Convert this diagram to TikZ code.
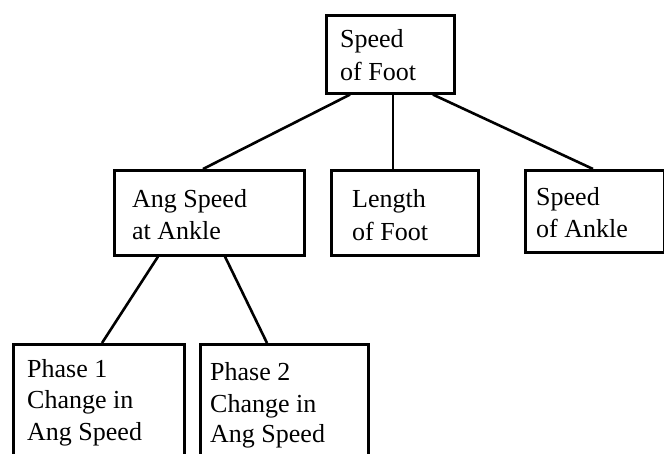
\documentclass[tikz,border=0pt]{standalone}
\usepackage{fontspec}
\setmainfont{Liberation Serif}
\usetikzlibrary{calc}
\begin{document}
\begin{tikzpicture}[x=1pt,y=-1pt,
  box/.style={draw=black,line width=2.6pt,minimum width=#1,inner sep=0pt,anchor=north west},
  lbl/.style={anchor=base west,inner sep=0pt,font=\fontsize{26}{32}\selectfont},
  conn/.style={line width=2.6pt}]
\clip (0,0) rectangle (664,453);
\fill[white] (0,0) rectangle (664,453);
% boxes
\node[box=128pt,minimum height=78pt] (top) at (325,14) {};
\node[box=190pt,minimum height=85pt] (ang) at (113,169) {};
\node[box=147pt,minimum height=85pt] (len) at (330,169) {};
\node[box=139pt,minimum height=82pt] (ank) at (524,169) {};
\node[box=171pt,minimum height=140pt] (p1) at (12,343) {};
\node[box=168pt,minimum height=140pt] (p2) at (199,343) {};
% texts
\node[lbl] (t1) at (340,47) {Speed};
\node[lbl] (t2) at (340,80) {of Foot};
\node[lbl] (a1) at (132,207) {Ang Speed};
\node[lbl] (a2) at (132,239) {at Ankle};
\node[lbl] (l1) at (352,207) {Length};
\node[lbl] (l2) at (352,240) {of Foot};
\node[lbl] (k1) at (536,205) {Speed};
\node[lbl] (k2) at (536,237) {of Ankle};
\node[lbl] (q1) at (27,377) {Phase 1};
\node[lbl] (q2) at (27,408) {Change in};
\node[lbl] (q3) at (27,440) {Ang Speed};
\node[lbl] (r1) at (210,380) {Phase 2};
\node[lbl] (r2) at (210,412) {Change in};
\node[lbl] (r3) at (210,442) {Ang Speed};
% connectors
\draw[conn] ($(top.south west)+(25,0)$) -- ($(ang.north west)+(90,0)$);
\draw[conn] ($(top.south west)+(68,0)$) -- ($(len.north west)+(63,0)$);
\draw[conn] ($(top.south west)+(108,0)$) -- ($(ank.north west)+(69,0)$);
\draw[conn] ($(ang.south west)+(45,0)$) -- ($(p1.north west)+(90,0)$);
\draw[conn] ($(ang.south west)+(112,0)$) -- ($(p2.north west)+(68,0)$);
\end{tikzpicture}
\end{document}
